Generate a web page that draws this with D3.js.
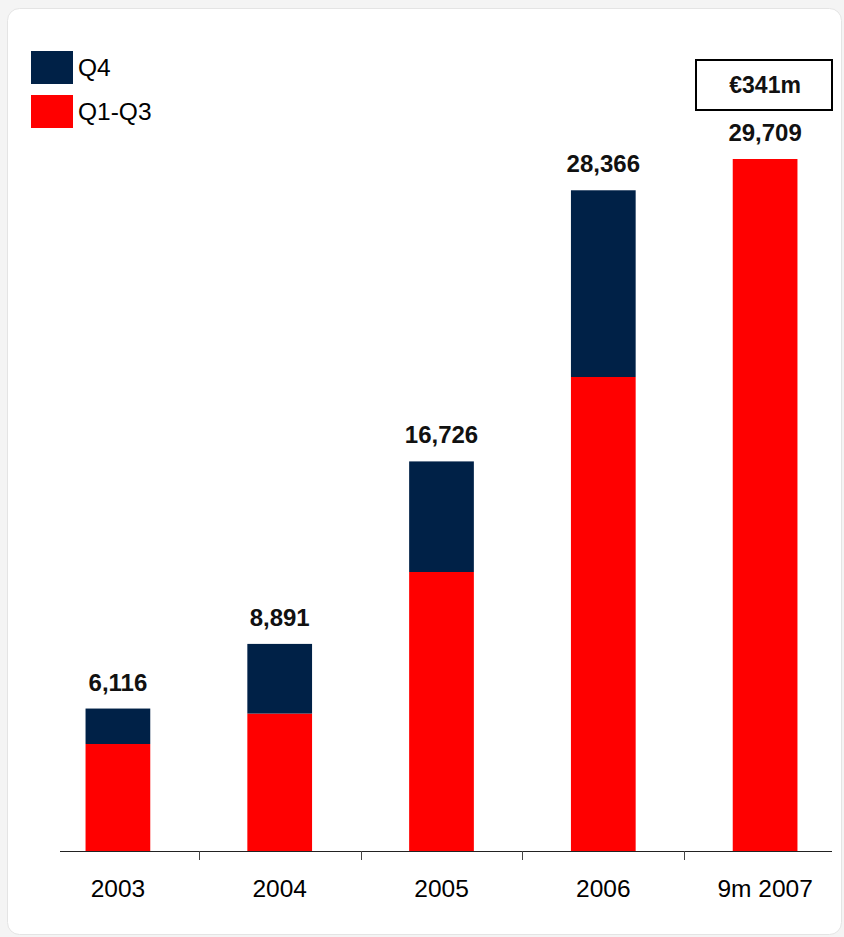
<!DOCTYPE html>
<html>
<head>
<meta charset="utf-8">
<script src="https://cdn.jsdelivr.net/npm/d3@7"></script>
<style>
  html, body { margin: 0; padding: 0; background: #f4f4f4; }
  svg { display: block; font-family: "Liberation Sans", Arial, sans-serif; }
</style>
</head>
<body>
<svg id="chart" width="844" height="937"></svg>
<script>
// Yearly volumes, split into the first three quarters and the fourth quarter
const years = ["2003", "2004", "2005", "2006", "9m 2007"];
const q1q3 = [4594, 5900, 11978, 20350, 29709];
const q4 = [1522, 2991, 4748, 8016, 0];
const totalLabels = ["6,116", "8,891", "16,726", "28,366", "29,709"];
const seriesNames = ["Q4", "Q1-Q3"];
const seriesColors = ["#002147", "#ff0000"];
const calloutText = "€341m";

const svg = d3.select("#chart");

// card background
svg.append("rect")
  .attr("x", 7.5).attr("y", 8.5)
  .attr("width", 834).attr("height", 926)
  .attr("rx", 12).attr("ry", 12)
  .attr("fill", "#ffffff")
  .attr("stroke", "#e4e4e4")
  .attr("stroke-width", 1);

const rows = years.map((y, i) => ({ year: y, q1q3: q1q3[i], q4: q4[i], label: totalLabels[i] }));
const stack = d3.stack().keys(["q1q3", "q4"])(rows);

const x = d3.scaleBand()
  .domain(years)
  .range([37, 846])
  .paddingInner(0.6)
  .paddingOuter(0.3);

const yMax = d3.max(rows, d => d.q1q3 + d.q4);
const y = d3.scaleLinear().domain([0, yMax]).range([851, 159]);

const colorFor = { q1q3: seriesColors[1], q4: seriesColors[0] };

// stacked bars
svg.append("g")
  .selectAll("g")
  .data(stack)
  .join("g")
  .attr("fill", s => colorFor[s.key])
  .selectAll("rect")
  .data(s => s.filter(d => d[1] > d[0]))
  .join("rect")
  .attr("x", d => x(d.data.year))
  .attr("y", d => y(d[1]))
  .attr("width", x.bandwidth())
  .attr("height", d => y(d[0]) - y(d[1]));

// total labels above each bar
svg.append("g")
  .selectAll("text")
  .data(rows)
  .join("text")
  .attr("x", d => x(d.year) + x.bandwidth() / 2)
  .attr("y", d => y(d.q1q3 + d.q4) - 18)
  .attr("text-anchor", "middle")
  .attr("font-size", 24)
  .attr("font-weight", "bold")
  .attr("fill", "#111")
  .text(d => d.label);

// baseline and category separators
const axisG = svg.append("g");
axisG.append("line")
  .attr("x1", 60).attr("x2", 832)
  .attr("y1", y(0) + 0.5).attr("y2", y(0) + 0.5)
  .attr("stroke", "#222").attr("stroke-width", 1.2);

const step = x.step();
axisG.selectAll("line.sep")
  .data(years.slice(0, -1))
  .join("line")
  .attr("class", "sep")
  .attr("x1", d => Math.round(x(d) + x.bandwidth() / 2 + step / 2) + 0.5)
  .attr("x2", d => Math.round(x(d) + x.bandwidth() / 2 + step / 2) + 0.5)
  .attr("y1", y(0)).attr("y2", y(0) + 9)
  .attr("stroke", "#444").attr("stroke-width", 1);

// category labels
const xAxis = svg.append("g")
  .attr("transform", `translate(0,${y(0)})`)
  .call(d3.axisBottom(x).tickSize(0).tickPadding(0));
xAxis.select(".domain").remove();
xAxis.selectAll("text")
  .attr("dy", 0)
  .attr("y", 45.5)
  .attr("font-size", 24.5)
  .attr("font-family", "Liberation Sans, Arial, sans-serif")
  .attr("fill", "#000");

// legend
const legend = svg.append("g");
seriesNames.forEach((name, i) => {
  const top = 51 + i * 44;
  legend.append("rect")
    .attr("x", 31).attr("y", top)
    .attr("width", 42).attr("height", 33)
    .attr("fill", seriesColors[i]);
  legend.append("text")
    .attr("x", 78).attr("y", top + 25)
    .attr("font-size", 24.5)
    .attr("fill", "#000")
    .text(name);
});

// callout box above the last bar
const cx = x(years[years.length - 1]) + x.bandwidth() / 2;
svg.append("rect")
  .attr("x", 696).attr("y", 60)
  .attr("width", 136).attr("height", 50)
  .attr("fill", "#fff")
  .attr("stroke", "#000")
  .attr("stroke-width", 2);
svg.append("text")
  .attr("x", cx).attr("y", 93)
  .attr("text-anchor", "middle")
  .attr("font-size", 23)
  .attr("font-weight", "bold")
  .attr("fill", "#111")
  .text(calloutText);
</script>
</body>
</html>
